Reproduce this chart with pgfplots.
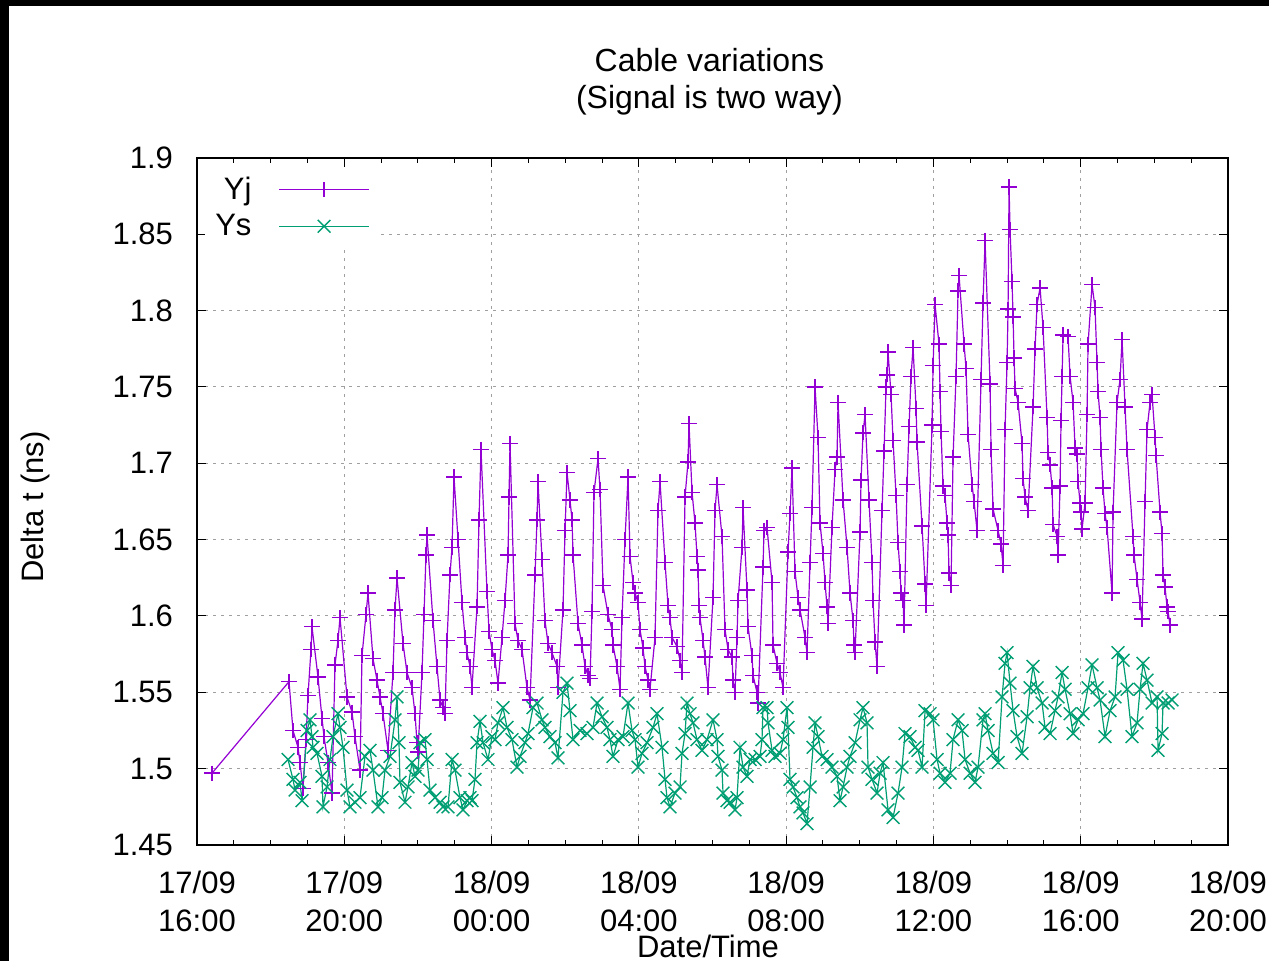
\documentclass[border=0pt]{standalone}
\usepackage{fontspec}
\setmainfont{Liberation Sans}
\usepackage{pgfplots}
\usepackage{pgfplotstable}
\pgfplotsset{compat=1.18}
\definecolor{yjcol}{HTML}{9400D3}
\definecolor{yscol}{HTML}{009E73}
\definecolor{gridcol}{HTML}{A0A0A0}
\newcommand{\lblfont}{\fontsize{15.5}{17}\selectfont}

\pgfplotstableread{
h v
0.407 1.497
2.499 1.557
2.607 1.525
2.743 1.514
2.797 1.504
2.879 1.487
2.960 1.519
3.015 1.548
3.096 1.578
3.123 1.593
3.286 1.560
3.395 1.533
3.449 1.521
3.558 1.504
3.667 1.484
3.748 1.568
3.829 1.584
3.884 1.599
4.074 1.547
4.210 1.537
4.291 1.521
4.427 1.499
4.481 1.574
4.590 1.601
4.644 1.615
4.780 1.572
4.889 1.558
4.970 1.547
5.052 1.536
5.187 1.512
5.323 1.563
5.378 1.604
5.432 1.625
5.595 1.582
5.703 1.563
5.839 1.553
5.921 1.536
5.975 1.517
6.002 1.511
6.111 1.563
6.165 1.601
6.219 1.640
6.247 1.653
6.409 1.597
6.518 1.567
6.600 1.545
6.681 1.540
6.736 1.536
6.790 1.584
6.871 1.627
6.926 1.645
6.980 1.691
7.089 1.650
7.197 1.609
7.279 1.586
7.333 1.576
7.414 1.567
7.469 1.553
7.605 1.606
7.659 1.663
7.713 1.709
7.876 1.616
7.931 1.590
8.012 1.578
8.093 1.571
8.175 1.556
8.284 1.586
8.365 1.610
8.447 1.640
8.474 1.678
8.501 1.713
8.637 1.595
8.718 1.584
8.827 1.578
8.963 1.553
9.044 1.545
9.180 1.627
9.234 1.663
9.261 1.688
9.370 1.637
9.451 1.597
9.533 1.582
9.641 1.576
9.777 1.567
9.804 1.553
9.940 1.604
9.995 1.656
10.049 1.694
10.130 1.676
10.185 1.663
10.212 1.640
10.348 1.595
10.456 1.581
10.538 1.567
10.619 1.561
10.674 1.559
10.728 1.603
10.782 1.681
10.891 1.703
10.945 1.683
11.027 1.620
11.162 1.601
11.271 1.591
11.298 1.581
11.407 1.567
11.488 1.552
11.543 1.599
11.624 1.650
11.706 1.691
11.760 1.639
11.842 1.622
11.896 1.615
11.977 1.609
12.032 1.591
12.113 1.579
12.167 1.567
12.249 1.558
12.303 1.552
12.439 1.586
12.520 1.669
12.575 1.688
12.711 1.635
12.792 1.607
12.846 1.599
12.901 1.586
13.036 1.580
13.118 1.571
13.172 1.563
13.254 1.678
13.335 1.701
13.362 1.726
13.444 1.681
13.525 1.661
13.580 1.639
13.607 1.630
13.634 1.607
13.661 1.599
13.743 1.584
13.797 1.573
13.878 1.553
14.014 1.612
14.069 1.669
14.123 1.686
14.259 1.652
14.340 1.591
14.422 1.578
14.530 1.573
14.557 1.558
14.612 1.550
14.666 1.586
14.693 1.610
14.802 1.645
14.829 1.671
14.937 1.617
14.965 1.593
15.073 1.574
15.100 1.561
15.209 1.550
15.236 1.543
15.372 1.632
15.399 1.656
15.481 1.658
15.617 1.622
15.644 1.581
15.752 1.569
15.834 1.563
15.915 1.553
16.051 1.642
16.105 1.667
16.160 1.697
16.241 1.629
16.323 1.612
16.377 1.604
16.513 1.586
16.567 1.576
16.649 1.635
16.703 1.671
16.785 1.750
16.866 1.717
16.920 1.661
17.002 1.641
17.056 1.622
17.110 1.606
17.138 1.595
17.246 1.658
17.328 1.696
17.382 1.704
17.409 1.740
17.545 1.676
17.654 1.645
17.735 1.615
17.817 1.597
17.844 1.581
17.871 1.576
18.007 1.655
18.034 1.689
18.088 1.720
18.143 1.732
18.251 1.676
18.333 1.635
18.360 1.610
18.414 1.583
18.469 1.567
18.604 1.669
18.659 1.708
18.713 1.750
18.740 1.758
18.767 1.773
18.849 1.745
18.903 1.715
18.985 1.679
19.039 1.648
19.093 1.629
19.120 1.615
19.175 1.610
19.202 1.594
19.283 1.686
19.338 1.724
19.392 1.757
19.447 1.776
19.528 1.736
19.555 1.714
19.691 1.659
19.773 1.621
19.800 1.607
19.963 1.725
19.990 1.764
20.044 1.804
20.152 1.778
20.180 1.747
20.207 1.721
20.261 1.685
20.315 1.679
20.370 1.661
20.397 1.653
20.424 1.628
20.478 1.620
20.533 1.704
20.614 1.757
20.669 1.813
20.696 1.823
20.832 1.778
20.886 1.762
20.940 1.719
21.049 1.686
21.103 1.675
21.184 1.656
21.293 1.755
21.347 1.805
21.402 1.846
21.538 1.752
21.565 1.709
21.620 1.670
21.756 1.656
21.837 1.647
21.891 1.633
21.945 1.722
22.000 1.766
22.027 1.801
22.054 1.881
22.081 1.853
22.135 1.819
22.163 1.796
22.190 1.769
22.217 1.749
22.298 1.740
22.407 1.713
22.434 1.690
22.488 1.678
22.570 1.669
22.706 1.737
22.760 1.775
22.814 1.804
22.896 1.815
22.977 1.789
23.086 1.730
23.113 1.707
23.167 1.699
23.222 1.684
23.249 1.660
23.358 1.652
23.385 1.640
23.439 1.685
23.466 1.728
23.494 1.757
23.521 1.784
23.656 1.783
23.711 1.757
23.792 1.740
23.847 1.710
23.901 1.706
23.928 1.688
23.982 1.674
24.009 1.668
24.036 1.657
24.118 1.674
24.172 1.732
24.199 1.778
24.308 1.817
24.389 1.802
24.443 1.766
24.471 1.747
24.525 1.730
24.552 1.709
24.606 1.684
24.661 1.667
24.715 1.658
24.851 1.615
24.878 1.668
24.987 1.740
25.068 1.755
25.123 1.781
25.204 1.737
25.258 1.709
25.421 1.652
25.448 1.640
25.530 1.624
25.611 1.609
25.665 1.598
25.747 1.675
25.801 1.722
25.883 1.740
25.937 1.745
26.019 1.717
26.046 1.705
26.155 1.668
26.209 1.654
26.236 1.627
26.290 1.619
26.344 1.606
26.372 1.603
26.426 1.594
}\yjdata

\pgfplotstableread{
h v
2.472 1.506
2.607 1.493
2.662 1.486
2.797 1.491
2.852 1.479
2.988 1.525
3.069 1.532
3.123 1.521
3.151 1.514
3.259 1.510
3.395 1.495
3.422 1.475
3.531 1.488
3.612 1.506
3.694 1.521
3.829 1.536
3.884 1.527
3.965 1.514
4.074 1.486
4.155 1.475
4.291 1.478
4.427 1.481
4.563 1.508
4.699 1.512
4.780 1.499
4.916 1.475
5.025 1.481
5.106 1.499
5.242 1.508
5.378 1.532
5.432 1.547
5.486 1.517
5.513 1.491
5.649 1.478
5.731 1.488
5.839 1.504
5.921 1.495
6.002 1.499
6.057 1.517
6.192 1.519
6.247 1.506
6.328 1.486
6.464 1.481
6.600 1.478
6.681 1.475
6.817 1.475
6.926 1.506
7.007 1.499
7.143 1.481
7.224 1.473
7.333 1.479
7.414 1.481
7.469 1.479
7.550 1.493
7.605 1.517
7.686 1.531
7.768 1.517
7.903 1.506
8.012 1.521
8.093 1.519
8.175 1.530
8.311 1.540
8.419 1.527
8.555 1.519
8.691 1.501
8.773 1.508
8.908 1.517
8.990 1.523
9.126 1.540
9.234 1.543
9.370 1.532
9.451 1.527
9.587 1.521
9.723 1.517
9.804 1.507
9.940 1.550
10.049 1.556
10.130 1.538
10.212 1.519
10.402 1.525
10.592 1.523
10.755 1.527
10.864 1.543
11.000 1.534
11.135 1.527
11.217 1.519
11.298 1.508
11.434 1.519
11.570 1.521
11.706 1.543
11.814 1.525
11.896 1.519
11.977 1.501
12.086 1.510
12.222 1.517
12.385 1.527
12.493 1.536
12.629 1.514
12.711 1.493
12.765 1.481
12.846 1.475
12.982 1.484
13.118 1.488
13.172 1.510
13.254 1.523
13.308 1.543
13.390 1.536
13.471 1.530
13.580 1.519
13.716 1.512
13.852 1.519
14.014 1.532
14.123 1.519
14.150 1.508
14.259 1.499
14.286 1.484
14.394 1.479
14.476 1.478
14.612 1.473
14.666 1.481
14.748 1.514
14.829 1.501
14.937 1.495
15.019 1.506
15.155 1.506
15.291 1.508
15.345 1.519
15.372 1.540
15.481 1.540
15.508 1.530
15.617 1.512
15.698 1.508
15.834 1.510
15.915 1.519
16.024 1.540
16.051 1.527
16.105 1.493
16.187 1.488
16.296 1.481
16.377 1.475
16.459 1.471
16.567 1.464
16.649 1.488
16.730 1.514
16.785 1.530
16.866 1.521
16.975 1.508
17.110 1.506
17.246 1.501
17.382 1.495
17.463 1.479
17.545 1.488
17.654 1.501
17.735 1.508
17.871 1.517
18.007 1.532
18.088 1.540
18.197 1.530
18.224 1.501
18.333 1.493
18.469 1.484
18.550 1.497
18.632 1.504
18.767 1.473
18.903 1.468
19.039 1.484
19.148 1.501
19.229 1.523
19.365 1.521
19.501 1.514
19.582 1.512
19.691 1.501
19.773 1.538
19.908 1.536
19.990 1.532
20.098 1.506
20.180 1.497
20.315 1.491
20.451 1.497
20.533 1.519
20.669 1.532
20.777 1.525
20.859 1.506
20.995 1.497
21.130 1.491
21.212 1.501
21.347 1.532
21.402 1.536
21.483 1.525
21.620 1.510
21.756 1.504
21.864 1.547
21.945 1.569
22.000 1.576
22.081 1.556
22.163 1.538
22.271 1.521
22.407 1.510
22.543 1.534
22.624 1.553
22.706 1.567
22.814 1.553
22.950 1.543
23.031 1.527
23.167 1.523
23.303 1.538
23.385 1.547
23.494 1.563
23.575 1.552
23.711 1.536
23.792 1.523
23.928 1.532
24.063 1.536
24.199 1.553
24.308 1.568
24.443 1.553
24.525 1.545
24.661 1.521
24.797 1.538
24.933 1.547
25.014 1.576
25.150 1.571
25.258 1.552
25.394 1.521
25.530 1.530
25.611 1.552
25.693 1.569
25.801 1.558
25.937 1.543
26.073 1.547
26.100 1.512
26.209 1.523
26.236 1.543
26.372 1.543
26.480 1.545
}\ysdata

\begin{document}
\begin{tikzpicture}
\useasboundingbox (-98.5pt,-58pt) rectangle (536pt,422.5pt);
\fill[black] (-98.5pt,-58pt) rectangle (536pt,422.5pt);
\fill[white] (-94pt,-58pt) rectangle (536pt,419.5pt);
\begin{axis}[
  at={(0pt,0pt)}, anchor=south west,
  scale only axis, width=515.5pt, height=343.5pt,
  xmin=0, xmax=28, ymin=1.45, ymax=1.9,
  xtick={0,4,...,28},
  xticklabels={{17/09\\16:00},{17/09\\20:00},{18/09\\00:00},{18/09\\04:00},{18/09\\08:00},{18/09\\12:00},{18/09\\16:00},{18/09\\20:00}},
  minor x tick num=3,
  ytick={1.45,1.5,1.55,1.6,1.65,1.7,1.75,1.8,1.85,1.9},
  yticklabels={1.45,1.5,1.55,1.6,1.65,1.7,1.75,1.8,1.85,1.9},
  /pgf/number format/assume math mode=true,
  tick pos=both, tick align=inside,
  major tick length=4.5pt, minor tick length=2.3pt,
  every tick/.style={black, line width=0.5pt},
  axis line style={black, line width=0.7pt},
  grid=major,
  major grid style={gridcol, line width=0.5pt, dash pattern=on 1.6pt off 2.4pt},
  xticklabel style={align=center, font=\fontsize{15.5}{19}\selectfont, yshift=-9.5pt},
  yticklabel style={font=\lblfont, xshift=-8.5pt},
  xlabel={Date/Time},
  xlabel style={font=\lblfont, at={(axis description cs:0.4956,-0.1470)}, anchor=center},
  ylabel={Delta t (ns)},
  ylabel style={font=\lblfont, at={(axis description cs:-0.1571,0.492)}, anchor=center, rotate=0},
  title={Cable variations\\(Signal is two way)},
  title style={font=\fontsize{16}{18.5}\selectfont, align=center, at={(axis description cs:0.497,1)}, anchor=center, yshift=32pt},
  legend plot pos=right,
  legend cell align=right,
  legend style={draw=white, fill=white, font=\lblfont, at={(axis description cs:0.1737,0.985)}, anchor=north east, row sep=2pt, column sep=11.5pt},
  legend image code/.code={\draw[mark repeat=2,mark phase=2] plot coordinates {(0pt,0pt) (22.5pt,0pt) (45pt,0pt)};},
]
\addplot[color=yjcol, line width=0.6pt, mark=+, mark size=3.8pt, mark options={line width=0.75pt, solid}] table[x=h, y=v] {\yjdata};
\addlegendentry{Yj}
\addplot[color=yscol, line width=0.6pt, mark=x, mark size=4.5pt, mark options={line width=0.7pt, solid}] table[x=h, y=v] {\ysdata};
\addlegendentry{Ys}
\end{axis}
\end{tikzpicture}
\end{document}
